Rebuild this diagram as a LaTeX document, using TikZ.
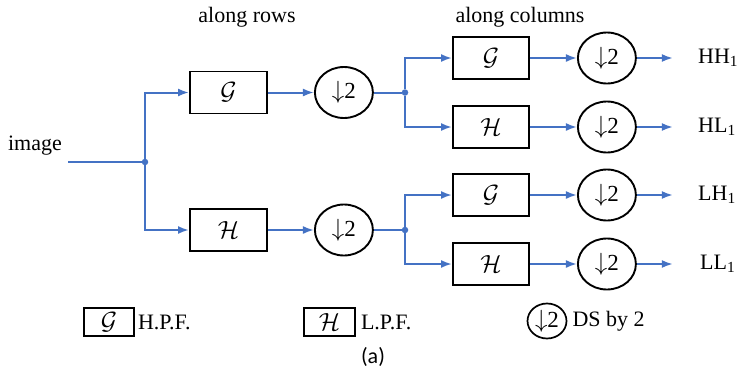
\documentclass[tikz,border=0pt]{standalone}
\usepackage{fontspec}
\setmainfont{Liberation Serif}
\newfontfamily\capfont{Carlito}
\usepackage{xcolor}
\usetikzlibrary{arrows.meta,positioning,shapes.geometric}
\definecolor{wireblue}{RGB}{68,114,196}

\begin{document}
\begin{tikzpicture}[
  x=1pt,y=-1pt,
  every node/.style={font=\fontsize{22}{26}\selectfont},
  filt/.style={draw,line width=1.9pt,minimum width=77pt,minimum height=42pt,inner sep=0pt,
    font=\fontsize{30}{32}\selectfont},
  ds/.style={draw,ellipse,line width=1.9pt,minimum width=58pt,minimum height=51pt,inner sep=0pt,
    font=\fontsize{23}{26}\selectfont},
  keytext/.style={inner sep=1pt,anchor=west},
  wire/.style={wireblue,line width=2pt},
  arr/.style={wire,-{Latex[length=11pt,width=8pt]}},
  dot/.style={circle,fill=wireblue,inner sep=0pt,minimum size=6.5pt}
]
\useasboundingbox (0,0) rectangle (739,381);

% headers
\node (rows) at (247,17) {along rows};
\node (cols) at (520,17) {along columns};

% input
\node (img) at (35,146) {image};
\coordinate (in) at (68,162);
\node[dot] (j0) at (145,162) {};

% first stage (rows)
\node[filt] (g1) at (228.5,92.5) {$\mathcal{G}$};
\node[filt] (h1) at (228.5,230) {$\mathcal{H}$};
\node[ds,right=46pt of g1] (d1) {$\downarrow$2};
\node[ds,right=46pt of h1] (d2) {$\downarrow$2};
\node[dot] (j1) at (405,92.5) {};
\node[dot] (j2) at (405,230) {};

% second stage (columns)
\node[filt,minimum width=76pt] (gg) at (491,58) {$\mathcal{G}$};
\node[filt,minimum width=76pt] (hh) at (491,127) {$\mathcal{H}$};
\node[filt,minimum width=76pt] (gl) at (491,195) {$\mathcal{G}$};
\node[filt,minimum width=76pt] (hl) at (491,264) {$\mathcal{H}$};
\node[ds,right=47pt of gg] (dgg) {$\downarrow$2};
\node[ds,right=47pt of hh] (dhh) {$\downarrow$2};
\node[ds,right=47pt of gl] (dgl) {$\downarrow$2};
\node[ds,right=47pt of hl] (dhl) {$\downarrow$2};
\coordinate[right=36pt of dgg] (ogg);
\coordinate[right=36pt of dhh] (ohh);
\coordinate[right=36pt of dgl] (ogl);
\coordinate[right=36pt of dhl] (ohl);
\node[keytext] (hh1) at (697,58) {HH\textsubscript{1}};
\node[keytext] (hl1) at (697,127) {HL\textsubscript{1}};
\node[keytext] (lh1) at (697,195) {LH\textsubscript{1}};
\node[keytext] (ll1) at (699,264) {LL\textsubscript{1}};

% legend
\node[filt,line width=1.7pt,minimum width=50pt,minimum height=28pt,font=\fontsize{26}{28}\selectfont] (kg) at (109,322) {$\mathcal{G}$};
\node[keytext,right=2pt of kg] (kgt) {H.P.F.};
\node[filt,line width=1.7pt,minimum width=51pt,minimum height=28pt,font=\fontsize{26}{28}\selectfont] (kh) at (329.5,322) {$\mathcal{H}$};
\node[keytext,right=4pt of kh] (kht) {L.P.F.};
\node[ds,line width=1.7pt,minimum width=39pt,minimum height=35pt] (kd) at (547,321) {$\downarrow$2};
\node[keytext,right=4pt of kd] (kdt) {DS by 2};
\node[font=\capfont\fontsize{22}{26}\selectfont] (cap) at (373,357) {(a)};

\draw[wire] (in)--(j0);
\draw[arr] (j0)|-(g1);
\draw[arr] (j0)|-(h1);
\draw[arr] (g1)--(d1);
\draw[arr] (h1)--(d2);
\draw[wire] (d1)--(j1);
\draw[wire] (d2)--(j2);
\draw[arr] (j1)|-(gg);
\draw[arr] (j1)|-(hh);
\draw[arr] (j2)|-(gl);
\draw[arr] (j2)|-(hl);
\draw[arr] (gg)--(dgg);
\draw[arr] (hh)--(dhh);
\draw[arr] (gl)--(dgl);
\draw[arr] (hl)--(dhl);
\draw[arr] (dgg)--(ogg);
\draw[arr] (dhh)--(ohh);
\draw[arr] (dgl)--(ogl);
\draw[arr] (dhl)--(ohl);
\end{tikzpicture}
\end{document}
